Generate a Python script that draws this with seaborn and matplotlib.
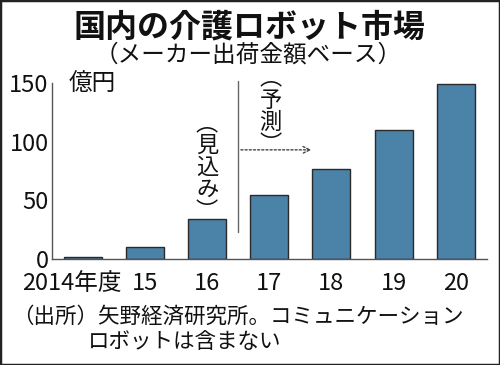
import matplotlib
matplotlib.use("Agg")
import matplotlib.pyplot as plt
import matplotlib.transforms as mtransforms
from matplotlib.patches import Rectangle
import seaborn as sns
import pandas as pd

years = ["2014年度", "15", "16", "17", "18", "19", "20"]
values = [2, 10, 34, 55, 77, 110, 149]
yticks = [0, 50, 100, 150]

title = "国内の介護ロボット市場"
subtitle = "（メーカー出荷金額ベース）"
unit = "億円"
note1 = "（出所）矢野経済研究所。コミュニケーション"
note2 = "ロボットは含まない"
est_label = "︵見込み︶"
fc_label = "︵予測︶"

sns.set_theme(style="white")
plt.rcParams['font.family'] = ['Noto Sans CJK JP', 'DejaVu Sans']

df = pd.DataFrame({"year": years, "value": values})

fig = plt.figure(figsize=(5.0, 3.65), dpi=100)
ax = fig.add_axes([0.103, 0.290, 0.871, 0.483])
sns.barplot(data=df, x="year", y="value", color="#4a82a8", saturation=1,
            edgecolor="#2a2a2a", linewidth=1.0, width=0.61, ax=ax)

ax.set_xlim(-0.5, 6.5)
ax.set_ylim(0, 150)
ax.set_yticks(yticks)
ax.set_yticklabels([str(v) for v in yticks], fontsize=17)
ax.set_xticks(range(len(years)))
ax.set_xticklabels(years, fontsize=17)
ax.set_xlabel("")
ax.set_ylabel("")
for s in ["top", "right"]:
    ax.spines[s].set_visible(False)
for s in ["left", "bottom"]:
    ax.spines[s].set_color("#555555")
    ax.spines[s].set_linewidth(1.0)
ax.tick_params(axis="y", direction="in", length=5, width=1, color="#555555",
               pad=2, labelcolor="#111111")
ax.tick_params(axis="x", length=0, pad=9, labelcolor="#111111")

# shift first x label to the left
lbl = ax.get_xticklabels()[0]
lbl.set_transform(lbl.get_transform() + mtransforms.ScaledTranslation(-11/100, 0, fig.dpi_scale_trans))

ax.text(0.04, 0.99, unit, transform=ax.transAxes, fontsize=17, va="center", ha="left",
        color="#111111")

# divider and forecast arrow
ax.plot([2.5, 2.5], [23, 152], color="#666666", lw=1.0, clip_on=False)
ax.annotate("", xy=(3.72, 93), xytext=(2.5, 93),
            arrowprops=dict(arrowstyle="->", linestyle=(0, (1.5, 1.5)), color="#444444", lw=1.0))
ax.text(2.0, 78, "\n".join(est_label), fontsize=16, ha="center", va="center",
        color="#111111", linespacing=0.95)
ax.text(3.02, 126, "\n".join(fc_label), fontsize=16, ha="center", va="center",
        color="#111111", linespacing=0.95)

fig.text(0.5, 0.926, title, fontsize=23, fontweight="bold", ha="center", va="center",
         color="#111111")
fig.text(0.497, 0.848, subtitle, fontsize=17, ha="center", va="center", color="#111111")
fig.text(0.025, 0.132, note1, fontsize=15.5, ha="left", va="center", color="#111111")
fig.text(0.175, 0.063, note2, fontsize=15.5, ha="left", va="center", color="#111111")

fig.patches.append(Rectangle((0, 0), 1, 1, transform=fig.transFigure, fill=False,
                             edgecolor="#222222", linewidth=2.5))

fig.savefig("out.png", dpi=100)
